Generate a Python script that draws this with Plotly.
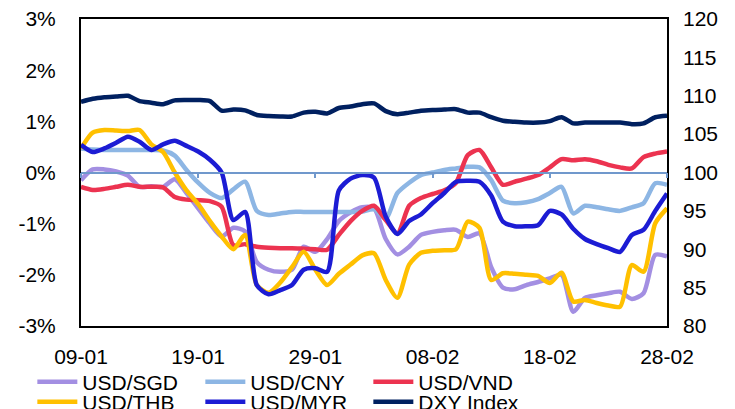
import plotly.graph_objects as go
import pandas as pd

dates = pd.date_range("2024-01-09", "2024-02-28", freq="D")

tick_dates = ["2024-01-09", "2024-01-19", "2024-01-29", "2024-02-08", "2024-02-18", "2024-02-28"]
tick_labels = ["09-01", "19-01", "29-01", "08-02", "18-02", "28-02"]

left_ticks = [-3, -2, -1, 0, 1, 2, 3]
left_labels = ["-3%", "-2%", "-1%", "0%", "1%", "2%", "3%"]
right_ticks = [80, 85, 90, 95, 100, 105, 110, 115, 120]

usd_sgd = [-0.15, 0.06, 0.06, 0.02, -0.06, -0.28, -0.27, -0.28, -0.13, -0.40,
           -0.70, -1.00, -1.25, -1.08, -1.15, -1.75, -1.90, -1.94, -1.90, -1.45,
           -1.55, -1.30, -0.95, -0.78, -0.68, -0.70, -1.30, -1.60, -1.45, -1.22,
           -1.16, -1.13, -1.12, -1.26, -1.19, -1.85, -2.25, -2.28, -2.20, -2.14,
           -2.07, -2.00, -2.72, -2.45, -2.40, -2.36, -2.33, -2.47, -2.36, -1.61, -1.64]

usd_cny = [0.47, 0.45, 0.44, 0.44, 0.44, 0.44, 0.44, 0.43, 0.33, 0.05,
           -0.20, -0.40, -0.50, -0.33, -0.18, -0.75, -0.83, -0.80, -0.77, -0.77,
           -0.77, -0.77, -0.77, -0.77, -0.76, -0.72, -0.90, -0.40, -0.20, -0.05,
           0.00, 0.05, 0.08, 0.11, 0.10, -0.15, -0.55, -0.60, -0.58, -0.52,
           -0.40, -0.28, -0.80, -0.65, -0.68, -0.72, -0.75, -0.68, -0.60, -0.21, -0.24]

usd_vnd = [-0.28, -0.34, -0.32, -0.28, -0.24, -0.28, -0.28, -0.29, -0.48, -0.53,
           -0.54, -0.56, -0.67, -1.42, -1.40, -1.45, -1.47, -1.48, -1.48, -1.49,
           -1.50, -1.51, -1.22, -0.95, -0.75, -0.65, -0.93, -1.19, -0.65, -0.50,
           -0.42, -0.35, -0.20, 0.34, 0.44, 0.10, -0.24, -0.18, -0.12, -0.05,
           0.10, 0.26, 0.24, 0.26, 0.22, 0.15, 0.10, 0.08, 0.30, 0.37, 0.41]

usd_thb = [0.47, 0.78, 0.83, 0.82, 0.81, 0.83, 0.55, 0.40, 0.00, -0.35,
           -0.62, -0.95, -1.25, -1.50, -1.22, -2.20, -2.35, -2.15, -1.85, -1.55,
           -1.90, -2.20, -1.98, -1.80, -1.62, -1.58, -2.10, -2.45, -1.80, -1.57,
           -1.53, -1.52, -1.50, -0.96, -1.08, -2.10, -1.97, -1.98, -2.00, -2.02,
           -2.16, -1.96, -2.52, -2.49, -2.55, -2.60, -2.62, -1.81, -1.94, -0.99, -0.70]

usd_myr = [0.54, 0.40, 0.47, 0.58, 0.70, 0.60, 0.44, 0.55, 0.62, 0.52,
           0.41, 0.25, 0.00, -0.93, -0.77, -2.20, -2.38, -2.30, -2.20, -1.90,
           -1.87, -1.94, -0.35, -0.12, -0.05, -0.10, -0.86, -1.20, -0.95, -0.82,
           -0.60, -0.40, -0.18, -0.16, -0.18, -0.45, -0.96, -1.05, -1.05, -1.03,
           -0.75, -0.82, -1.10, -1.30, -1.40, -1.48, -1.55, -1.22, -1.12, -0.75, -0.41]

dxy_index = [109.2, 109.6, 109.8, 109.9, 110.0, 109.3, 109.1, 108.9, 109.4, 109.45,
             109.45, 109.3, 108.05, 108.2, 108.1, 107.5, 107.35, 107.3, 107.3, 107.8,
             107.9, 107.7, 108.4, 108.6, 108.9, 109.0, 108.0, 107.6, 107.8, 108.05,
             108.15, 108.2, 108.25, 107.8, 107.8, 107.2, 106.75, 106.6, 106.5, 106.5,
             106.7, 107.2, 106.4, 106.5, 106.5, 106.5, 106.5, 106.3, 106.4, 107.2, 107.4]

series = [
    ("USD/SGD", usd_sgd, "#a38fe2", "y", "legend"),
    ("USD/CNY", usd_cny, "#8db6e4", "y", "legend"),
    ("USD/VND", usd_vnd, "#ec3350", "y", "legend"),
    ("USD/THB", usd_thb, "#ffc000", "y", "legend2"),
    ("USD/MYR", usd_myr, "#1c1cd4", "y", "legend2"),
    ("DXY Index", dxy_index, "#002060", "y2", "legend2"),
]

FONT = "Liberation Sans, Arial, sans-serif"
FS = 21

fig = go.Figure()
for name, vals, color, yax, leg in series:
    fig.add_trace(go.Scatter(
        x=dates, y=vals, name=name, mode="lines", yaxis=yax, legend=leg,
        line=dict(color=color, width=4.5, shape="spline", smoothing=0.7),
    ))

# invisible trace for the zero-line axis
fig.add_trace(go.Scatter(x=[dates[0]], y=[0], xaxis="x2", yaxis="y",
                         mode="markers", marker=dict(opacity=0), showlegend=False,
                         hoverinfo="skip"))

legend_common = dict(
    orientation="h", xref="container", yref="container",
    xanchor="left", yanchor="middle",
    entrywidth=113, entrywidthmode="pixels",
    font=dict(family=FONT, size=FS), bgcolor="rgba(0,0,0,0)",
    itemwidth=40, tracegroupgap=0,
)

fig.update_layout(
    width=735, height=409,
    margin=dict(l=81, r=68, t=19, b=83, autoexpand=False),
    paper_bgcolor="white", plot_bgcolor="white",
    font=dict(family=FONT, size=FS, color="black"),
    xaxis=dict(
        type="date", automargin=False,
        range=[dates[0], dates[-1]],
        tickvals=tick_dates, ticktext=tick_labels,
        showgrid=False, zeroline=False,
        showline=True, linecolor="black", linewidth=2, mirror=True,
        ticks="", ticklabelstandoff=11,
    ),
    xaxis2=dict(
        type="date", overlaying="x", matches="x", anchor="free", position=0.5,
        tickvals=tick_dates, showticklabels=False, automargin=False,
        showgrid=False, zeroline=False,
        showline=True, linecolor="#7098cc", linewidth=1.5,
        ticks="outside", ticklen=5, tickcolor="#7098cc", tickwidth=1.5,
    ),
    yaxis=dict(
        range=[-3, 3], tickvals=left_ticks, ticktext=left_labels, automargin=False,
        showgrid=False, zeroline=False,
        showline=True, linecolor="black", linewidth=2, mirror=True,
        ticks="", ticklabelstandoff=19,
    ),
    yaxis2=dict(
        range=[80, 120], tickvals=right_ticks, overlaying="y", side="right",
        automargin=False,
        showgrid=False, zeroline=False, showline=False,
        ticks="", ticklabelstandoff=15,
    ),
    legend=dict(x=0.044, y=0.066, **legend_common),
    legend2=dict(x=0.044, y=0.017, **legend_common),
    showlegend=True,
)

fig.write_html(
    "out.html",
    config={"displayModeBar": False},
    post_script="document.body.style.margin='0px';document.body.style.overflow='hidden';",
)
